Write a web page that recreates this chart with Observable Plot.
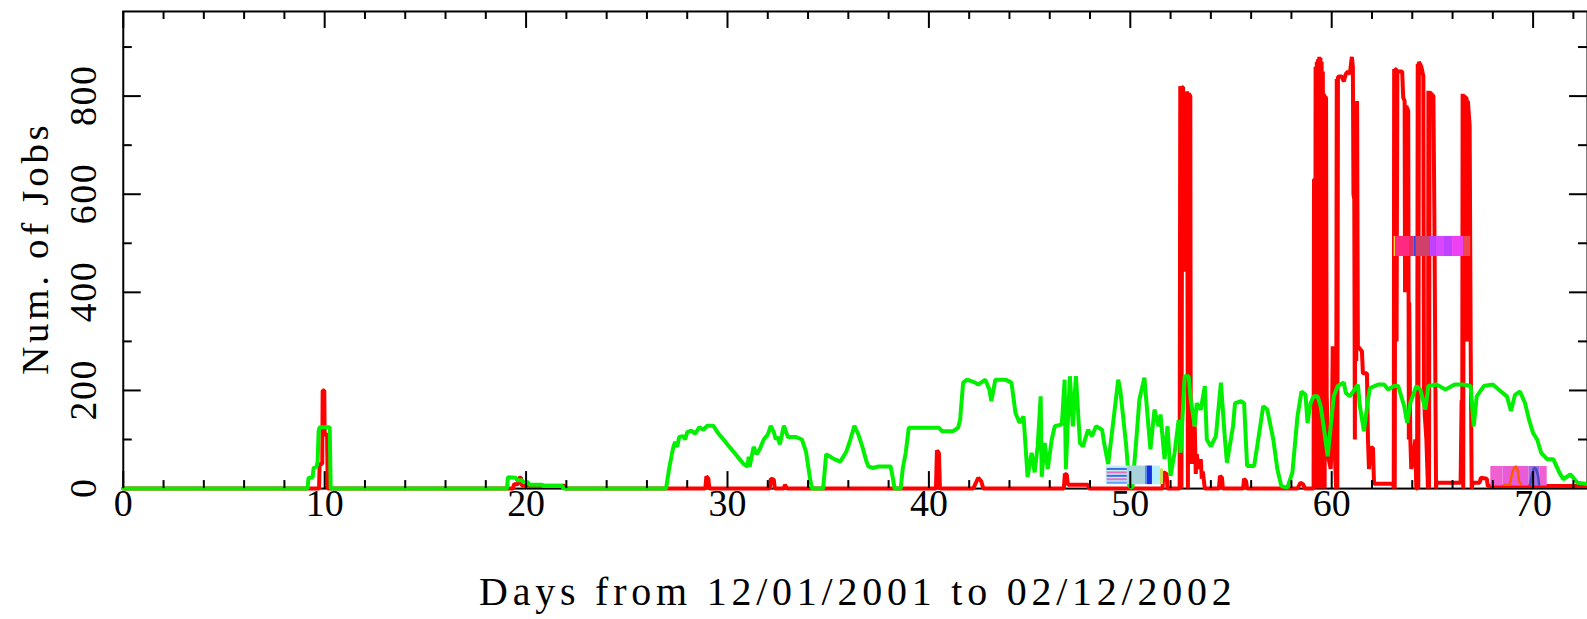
<!DOCTYPE html>
<html><head><meta charset="utf-8">
<script src="https://cdn.jsdelivr.net/npm/d3@7"></script>
<script src="https://cdn.jsdelivr.net/npm/@observablehq/plot@0.6"></script>
<style>html,body{margin:0;padding:0;background:#fff;overflow:hidden;} svg{display:block;}</style>
</head><body><div id="chart"></div>
<script>
// [day, number of jobs]
const redSeries = [
  [0,0],[9.72,0],[9.75,50],[9.88,50],[9.9,200],[9.98,200],[10.0,110],[10.12,110],[10.15,0],
  [19.35,0],[19.4,9],[19.6,9],[19.65,22],[19.75,22],[19.8,6],[21.9,6],[21.95,0],
  [28.9,0],[28.95,25],[29.05,20],[29.1,0],
  [32.1,0],[32.15,20],[32.3,18],[32.35,0],[32.8,0],[32.85,8],[32.95,0],
  [40.35,0],[40.4,78],[40.5,72],[40.55,0],
  [42.2,0],[42.45,22],[42.6,15],[42.7,0],
  [46.7,0],[46.75,30],[46.85,28],[46.9,8],[47.9,8],[47.95,0],
  [51.6,0],[51.65,33],[51.8,30],[51.85,0],
  [52.45,0],[52.48,820],[52.52,815],[52.54,0],[52.58,818],[52.62,818],[52.64,446],[52.8,446],[52.82,810],[52.86,0],[52.9,805],[52.98,800],
  [53.0,120],[53.05,50],[53.1,110],[53.15,60],[53.2,127],[53.25,30],[53.3,70],[53.4,40],[53.5,60],[53.55,20],[53.6,35],[53.7,0],
  [54.4,0],[54.45,26],[54.55,22],[54.6,0],
  [55.6,0],[55.65,20],[55.75,15],[55.8,0],
  [58.3,0],[58.45,12],[58.6,8],[58.65,0],
  [59.1,0],[59.12,630],[59.16,630],[59.18,0],[59.2,860],[59.23,0],[59.26,870],[59.29,0],[59.32,875],[59.35,0],[59.38,880],[59.41,0],[59.44,878],[59.47,0],[59.5,870],[59.53,0],[59.56,850],[59.59,0],[59.62,805],[59.65,0],[59.68,800],[59.72,795],[59.75,190],
  [59.8,120],[59.85,60],[59.95,40],[60.0,90],[60.05,290],[60.1,280],[60.15,80],[60.22,0],
  [60.25,835],[60.28,0],[60.31,838],[60.36,840],[60.5,840],[60.6,830],[60.7,845],[60.8,850],[60.9,845],[61.0,880],[61.05,860],[61.08,600],[61.12,590],[61.15,100],[61.18,590],[61.22,260],[61.26,790],[61.3,290],
  [61.5,280],[61.55,235],[61.75,235],[61.8,100],[61.85,40],[61.95,83],[62.05,83],[62.1,10],[63.05,10],
  [63.08,0],[63.1,855],[63.13,0],[63.16,855],[63.2,855],[63.22,300],[63.26,850],[63.5,850],[63.55,797],[63.62,790],[63.64,400],[63.7,780],[63.8,770],[63.83,100],[63.85,380],[63.9,105],[63.95,40],[64.05,60],[64.15,100],[64.2,0],
  [64.24,0],[64.27,866],[64.3,0],[64.33,870],[64.45,860],[64.55,840],[64.58,200],[64.62,150],[64.7,100],
  [64.78,0],[64.8,811],[64.83,0],[64.86,808],[65.05,800],[65.1,540],[65.18,0],[65.2,12],
  [66.4,12],[66.45,180],[66.48,100],
  [66.5,805],[66.53,0],[66.56,800],[66.7,795],[66.72,300],[66.76,790],[66.85,740],[66.9,290],[66.95,0],[67.0,12],
  [67.35,12],[67.4,22],[67.7,20],[67.75,5],[72.7,5]
];
const greenSeries = [
  [0,0],[9.15,0],[9.2,22],[9.4,22],[9.45,42],[9.6,45],[9.65,55],[9.7,117],[9.75,125],[10.25,125],[10.3,0],
  [19.05,0],[19.1,23],[19.5,22],[19.55,17],[19.8,17],[19.85,13],[20.1,13],[20.15,8],[20.8,8],[20.85,5],[21.8,5],[21.85,0],
  [26.95,0],[27.1,40],[27.3,83],[27.4,95],[27.5,85],[27.6,105],[27.8,107],[27.9,100],[28.0,115],[28.2,118],[28.4,112],[28.6,125],[28.8,120],[29.0,128],[29.3,128],[29.5,115],[29.8,100],[30.0,90],[30.3,75],[30.6,60],[30.8,50],[31.0,45],[31.05,65],[31.1,45],[31.3,85],[31.45,70],[31.6,80],[31.8,100],[32.0,110],[32.15,128],[32.3,115],[32.4,100],[32.5,105],[32.6,90],[32.8,128],[33.0,105],[33.4,105],[33.7,100],[33.9,75],[34.1,20],[34.2,0],
  [34.75,0],[34.9,70],[35.3,60],[35.6,55],[35.9,75],[36.1,100],[36.3,128],[36.5,110],[36.7,85],[36.9,55],[37.0,45],[37.2,42],[37.5,45],[38.1,45],[38.2,24],[38.3,0],
  [38.6,0],[38.7,40],[38.85,73],[39.0,124],[40.5,124],[40.65,117],[41.2,117],[41.45,124],[41.55,140],[41.7,216],[41.9,222],[42.3,216],[42.45,212],[42.8,222],[43.0,202],[43.1,178],[43.3,222],[43.8,222],[44.1,216],[44.3,154],[44.5,134],[44.7,147],[44.8,86],[44.9,24],[45.1,73],[45.25,33],[45.4,86],[45.55,188],[45.6,24],[45.75,93],[45.9,40],[46.1,100],[46.25,127],[46.6,131],[46.74,222],[46.8,40],[47.0,229],[47.15,127],[47.3,229],[47.5,93],[47.65,86],[47.9,120],[48.1,107],[48.3,127],[48.6,120],[48.7,93],[48.9,50],[49.05,100],[49.4,222],[49.5,202],[49.8,86],[49.95,5],[50.1,2],[50.3,100],[50.45,181],[50.7,226],[50.9,127],[51.0,80],[51.2,161],[51.4,127],[51.5,151],[51.7,60],[51.85,127],[52.0,26],[52.2,73],[52.4,140],[52.5,73],[52.7,229],[52.9,229],[53.0,181],[53.2,127],[53.3,174],[53.5,161],[53.7,209],[53.8,100],[54.0,86],[54.25,107],[54.5,216],[54.7,100],[54.8,53],[55.1,127],[55.2,174],[55.5,178],[55.65,174],[55.8,46],[56.15,46],[56.4,113],[56.6,168],[56.8,161],[57.1,100],[57.3,40],[57.5,5],[57.8,2],[58.05,33],[58.3,147],[58.5,198],[58.7,191],[58.8,134],[58.95,174],[59.1,188],[59.3,188],[59.45,168],[59.6,127],[59.8,66],[59.95,127],[60.1,188],[60.3,209],[60.6,216],[60.7,195],[60.9,188],[61.3,212],[61.4,168],[61.6,117],[61.8,181],[61.9,205],[62.3,212],[62.6,212],[62.8,202],[63.1,209],[63.3,209],[63.6,168],[63.75,134],[63.9,174],[64.2,209],[64.4,202],[64.65,161],[64.8,209],[65.2,212],[65.65,202],[66.1,212],[66.5,212],[66.9,209],[67.05,127],[67.2,188],[67.55,209],[68.0,212],[68.4,198],[68.7,188],[68.9,158],[69.1,191],[69.35,198],[69.6,174],[69.8,140],[70.0,113],[70.2,100],[70.4,73],[70.7,60],[71.0,60],[71.3,33],[71.5,19],[71.85,29],[72.2,12],[72.7,9]
];
const orangeSeries = [[68.6,8],[68.85,8],[68.95,30],[69.05,42],[69.15,45],[69.25,35],[69.3,15],[69.4,10]];
const blueSeries = [[69.85,8],[69.95,30],[70.05,42],[70.15,40],[70.25,25],[70.3,8]];

// overlay patches
const patchStart = [48.8, 49.9, 50.75, 50.85, 51.1, 51.5, 63.1, 63.17, 63.9, 64.1, 64.2, 64.9, 65.2, 65.6, 66.0, 66.55, 67.9, 68.5, 69.8, 70.35];
const patchEnd   = [49.9, 50.75, 50.85, 51.1, 51.5, 51.65, 63.17, 63.9, 64.1, 64.2, 64.9, 65.2, 65.6, 66.0, 66.55, 66.9, 68.5, 69.8, 70.35, 70.7];
const patchLow   = [8, 8, 8, 8, 8, 8, 473, 473, 473, 473, 473, 473, 473, 473, 473, 473, 5, 5, 5, 5];
const patchHigh  = [46, 46, 46, 46, 46, 40, 514, 514, 514, 514, 514, 514, 514, 514, 514, 514, 45, 45, 45, 45];
const patchColor = ["#c6ecf7", "#a9d3dc", "#5a8cf0", "#1530e0", "#b4f0ff", "#c8e050",
                    "#ffd840", "#ff2a80", "#e03060", "#3040e0", "#d0406a", "#c040ff", "#d848ff", "#c040ff", "#ee40f0", "#f04850",
                    "#f060d0", "#e85cd8", "#a070e0", "#f060d0"];
const stripeLevel = [40, 33, 26, 19, 12];
const stripeColor = ["#3b6fe0", "#e070c0", "#3b6fe0", "#e070c0", "#5aa0ff"];

const xMajor = [0, 10, 20, 30, 40, 50, 60, 70];
const xMinor = [2,4,6,8,12,14,16,18,22,24,26,28,32,34,36,38,42,44,46,48,52,54,56,58,62,64,66,68,72];
const yMajor = [200, 400, 600, 800];
const yMinor = [100, 300, 500, 700, 900];
const yLabels = [0, 200, 400, 600, 800];
const xTitle = "Days from 12/01/2001 to 02/12/2002";
const yTitle = "Num. of Jobs";

const W = 1590, H = 619, mL = 123, mR = 0, mT = 11, mB = 130;
const pW = W - mL - mR, pH = H - mT - mB;
const font = "Liberation Serif, DejaVu Serif, serif";

const patches = patchStart.map((s, i) => ({s, e: patchEnd[i], lo: patchLow[i], hi: patchHigh[i], c: patchColor[i]}));
const stripes = stripeLevel.map((v, i) => ({v, c: stripeColor[i]}));
const txt = {fontFamily: font, fill: "#000", textAnchor: "middle", lineAnchor: "middle"};

const chart = Plot.plot({
  width: W, height: H,
  marginLeft: mL, marginRight: mR, marginTop: mT, marginBottom: mB,
  x: {domain: [0, 72.7], axis: null},
  y: {domain: [0, 972.5], axis: null},
  style: {background: "#fff", overflow: "visible"},
  marks: [
    Plot.frame({stroke: "#000", strokeWidth: 2}),
    Plot.line(redSeries, {x: d => d[0], y: d => d[1], stroke: "#ff0000", strokeWidth: 4, strokeLinejoin: "miter"}),
    Plot.line(greenSeries, {x: d => d[0], y: d => d[1], stroke: "#00f000", strokeWidth: 4, strokeLinejoin: "miter"}),
    Plot.rect(patches, {x1: "s", x2: "e", y1: "lo", y2: "hi", fill: "c"}),
    Plot.ruleY(stripes, {y: "v", x1: 48.85, x2: 49.85, stroke: "c", strokeWidth: 2}),
    Plot.line(orangeSeries, {x: d => d[0], y: d => d[1], stroke: "#ff5a00", strokeWidth: 2.5}),
    Plot.line(blueSeries, {x: d => d[0], y: d => d[1], stroke: "#4848c8", strokeWidth: 2.5}),
    // ticks: bottom, top, left, right
    Plot.tickX(xMinor, {x: d => d, insetTop: pH - 8, stroke: "#000", strokeWidth: 2}),
    Plot.tickX(xMajor, {x: d => d, insetTop: pH - 17, stroke: "#000", strokeWidth: 2}),
    Plot.tickX(xMinor, {x: d => d, insetBottom: pH - 8, stroke: "#000", strokeWidth: 2}),
    Plot.tickX(xMajor, {x: d => d, insetBottom: pH - 17, stroke: "#000", strokeWidth: 2}),
    Plot.tickY(yMinor, {y: d => d, insetRight: pW - 9, stroke: "#000", strokeWidth: 2}),
    Plot.tickY(yMajor, {y: d => d, insetRight: pW - 18, stroke: "#000", strokeWidth: 2}),
    Plot.tickY(yMinor, {y: d => d, insetLeft: pW - 9, stroke: "#000", strokeWidth: 2}),
    Plot.tickY(yMajor, {y: d => d, insetLeft: pW - 18, stroke: "#000", strokeWidth: 2}),
    // tick labels and titles
    Plot.text(xMajor, {x: d => d, text: d => String(d), frameAnchor: "bottom", dy: 15, fontSize: 38, ...txt}),
    Plot.text(yLabels, {y: d => d, text: d => String(d), frameAnchor: "left", dx: -39, rotate: -90, fontSize: 38, ...txt}),
    Plot.text([xTitle], {text: d => d, frameAnchor: "bottom", dy: 104, fontSize: 40, ...txt}),
    Plot.text([yTitle], {text: d => d, frameAnchor: "left", dx: -88, rotate: -90, fontSize: 39, ...txt})
  ]
});
chart.querySelectorAll("text").forEach(t => {
  const s = t.textContent;
  if (s === xTitle) { t.setAttribute("textLength", 754); t.setAttribute("lengthAdjust", "spacing"); }
  else if (s === yTitle) { t.setAttribute("textLength", 250); t.setAttribute("lengthAdjust", "spacing"); }
  else if (yLabels.map(String).includes(s) && s.length > 1) { t.setAttribute("textLength", 20 * s.length); t.setAttribute("lengthAdjust", "spacing"); }
});
document.getElementById("chart").appendChild(chart);
</script></body></html>
